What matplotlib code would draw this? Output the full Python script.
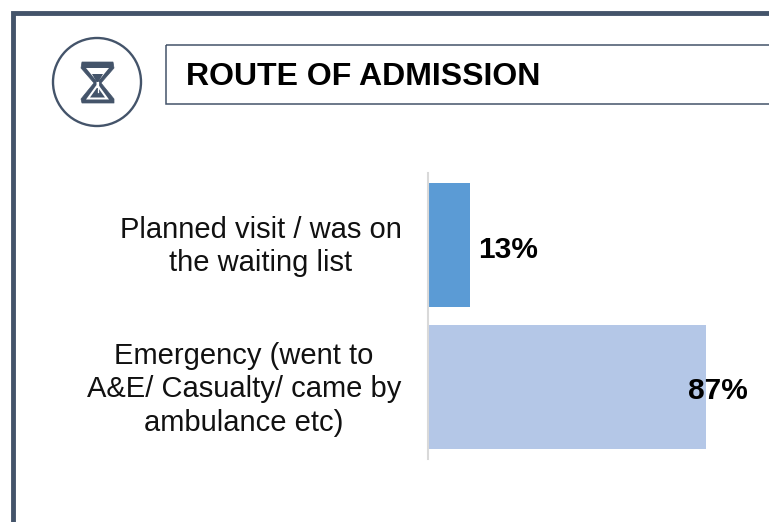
import matplotlib
matplotlib.use('Agg')
from matplotlib import pyplot as plt
from matplotlib.patches import Circle, Polygon, Rectangle

plt.rcParams['font.family'] = ['Liberation Sans', 'DejaVu Sans']

W, H = 769, 522
DARK = '#44546A'

title = 'ROUTE OF ADMISSION'
categories = ['Planned visit / was on\nthe waiting list',
              'Emergency (went to\nA&E/ Casualty/ came by\nambulance etc)']
values = [13, 87]
value_labels = ['13%', '87%']
bar_colors = ['#5B9BD5', '#B4C7E7']

fig = plt.figure(figsize=(W / 100, H / 100), dpi=100)

# overlay in pixel coords for the frame, title box and icon
bg = fig.add_axes([0, 0, 1, 1])
bg.set_xlim(0, W)
bg.set_ylim(H, 0)
bg.axis('off')

bg.plot([13.4, 13.4, W + 5], [H + 5, 13.4, 13.4], color=DARK, lw=3.5,
        solid_joinstyle='miter')
bg.add_patch(Rectangle((165.5, 44.5), W, 59, fill=False, ec=DARK, lw=1.1))
bg.text(186, 77, title, fontsize=23, fontweight='bold', va='center', ha='left',
        color='black')

# hourglass icon
bg.add_patch(Circle((97, 82), 44, fill=False, ec=DARK, lw=1.7))
bg.add_patch(Polygon([(82, 62), (113, 62), (114, 68), (101, 83), (114, 99), (114, 103),
                      (82, 103), (81, 99), (94, 83), (81, 68)],
                     closed=True, fc=DARK, ec=DARK, lw=0.5, joinstyle='round'))
bg.add_patch(Polygon([(86, 68), (109, 68), (98.5, 81), (98.5, 85), (109, 99.5), (86, 99.5),
                      (96.5, 85), (96.5, 81)],
                     closed=True, fc='white', ec='none'))
bg.add_patch(Polygon([(92, 74), (103, 74), (98.5, 82), (96.5, 82)],
                     closed=True, fc=DARK, ec='none'))
bg.add_patch(Polygon([(96.8, 88), (98.2, 88), (105, 97.5), (90, 97.5)],
                     closed=True, fc=DARK, ec='none'))
bg.plot([97.5, 97.5], [82, 92], color='white', lw=0.9)

# bar chart
ax = fig.add_axes([428 / W, 1 - 458.5 / H, 341 / W, 285 / H])
ax.patch.set_alpha(0)
ax.barh(range(len(values)), values, height=0.87, color=bar_colors, left=0)
ax.set_xlim(0, 341 / 3.195)
ax.set_ylim(1.5, -0.5)
ax.set_yticks([])
ax.set_xticks([])
for s in ['top', 'right', 'bottom']:
    ax.spines[s].set_visible(False)
ax.spines['left'].set_color('#D9D9D9')
ax.spines['left'].set_linewidth(1.5)

# category labels sit on different centres in the original
for i, off in enumerate([-167, -184]):
    ax.annotate(categories[i], xy=(0, i), xytext=(off, -2), textcoords='offset pixels',
                fontsize=21, ha='center', va='center', linespacing=1.25, color='#111111')

ax.annotate(value_labels[0], xy=(values[0], 0), xytext=(8.5, -5), textcoords='offset pixels',
            fontsize=21.5, fontweight='bold', va='center', ha='left', color='black')
ax.annotate(value_labels[1], xy=(values[1], 1), xytext=(-18, -4), textcoords='offset pixels',
            fontsize=21.5, fontweight='bold', va='center', ha='left', color='black')

fig.savefig('out.png', dpi=100)
